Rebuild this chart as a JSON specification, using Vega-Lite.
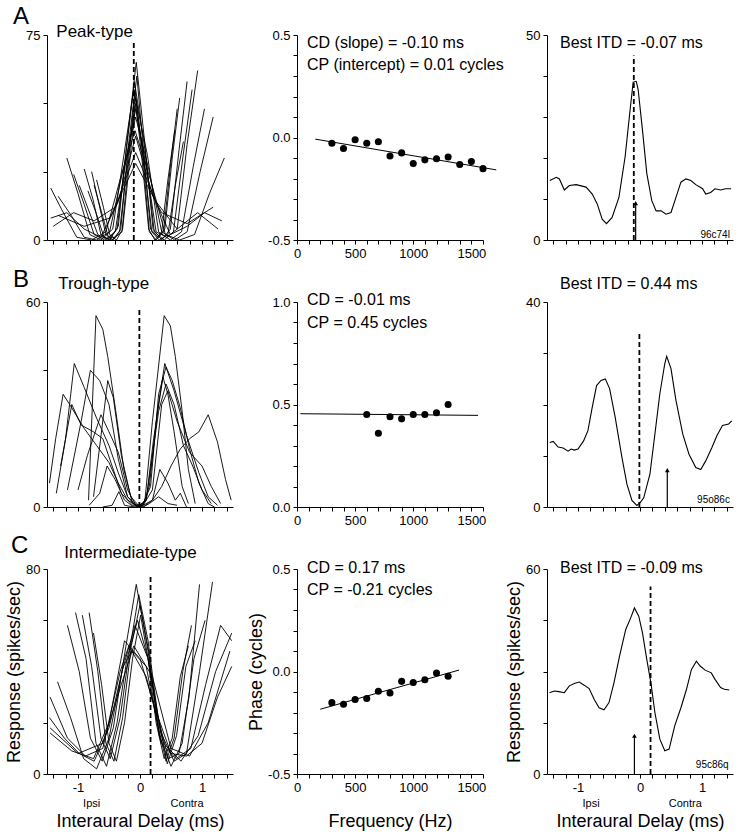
{
"$schema": "https://vega.github.io/schema/vega-lite/v6.json",
"autosize": {"type": "pad"},
"padding": {"left": 5, "top": 5, "right": 5, "bottom": 5},
"background": "white",
"bounds": "flush",
"columns": 3,
"spacing": {"row": 62, "column": 64},
"config": {
 "view": {"stroke": null},
 "font": "Liberation Sans",
 "axis": {"grid": false, "ticks": true, "domain": true, "domainColor": "#000", "tickColor": "#000", "labelColor": "#000", "labelFont": "Liberation Sans", "labelFontSize": 13, "titleFont": "Liberation Sans", "titleFontSize": 18, "titleFontWeight": "normal", "titleColor": "#000", "labelFlush": false, "labelOverlap": false, "labelPadding": 3, "domainWidth": 1, "tickWidth": 1, "tickSize": 4},
 "text": {"font": "Liberation Sans", "color": "#000"}
},
"datasets": {
 "aL": [
  {"k":1,"x":-0.70,"y":22},{"k":1,"x":-0.59,"y":12},{"k":1,"x":-0.49,"y":2},{"k":1,"x":-0.38,"y":0},{"k":1,"x":-0.28,"y":4},{"k":1,"x":-0.17,"y":28},{"k":1,"x":-0.07,"y":50},{"k":1,"x":0.03,"y":30},{"k":1,"x":0.14,"y":4},{"k":1,"x":0.24,"y":0},{"k":1,"x":0.35,"y":3},{"k":1,"x":0.45,"y":22},{"k":1,"x":0.56,"y":40},
  {"k":2,"x":-0.74,"y":20},{"k":2,"x":-0.63,"y":11},{"k":2,"x":-0.51,"y":1},{"k":2,"x":-0.40,"y":1},{"k":2,"x":-0.29,"y":3},{"k":2,"x":-0.18,"y":30},{"k":2,"x":-0.08,"y":55},{"k":2,"x":0.04,"y":32},{"k":2,"x":0.15,"y":3},{"k":2,"x":0.26,"y":0},{"k":2,"x":0.38,"y":3},{"k":2,"x":0.49,"y":27},{"k":2,"x":0.60,"y":48},
  {"k":3,"x":-0.78,"y":25},{"k":3,"x":-0.67,"y":14},{"k":3,"x":-0.55,"y":2},{"k":3,"x":-0.43,"y":0},{"k":3,"x":-0.31,"y":4},{"k":3,"x":-0.19,"y":34},{"k":3,"x":-0.05,"y":60},{"k":3,"x":0.05,"y":34},{"k":3,"x":0.17,"y":4},{"k":3,"x":0.29,"y":1},{"k":3,"x":0.40,"y":4},{"k":3,"x":0.52,"y":30},{"k":3,"x":0.64,"y":52},
  {"k":4,"x":-0.84,"y":18},{"k":4,"x":-0.71,"y":10},{"k":4,"x":-0.58,"y":1},{"k":4,"x":-0.45,"y":0},{"k":4,"x":-0.33,"y":3},{"k":4,"x":-0.20,"y":29},{"k":4,"x":-0.07,"y":52},{"k":4,"x":0.06,"y":29},{"k":4,"x":0.19,"y":3},{"k":4,"x":0.31,"y":0},{"k":4,"x":0.45,"y":2},{"k":4,"x":0.57,"y":20},{"k":4,"x":0.70,"y":36},
  {"k":5,"x":-0.90,"y":26},{"k":5,"x":-0.76,"y":15},{"k":5,"x":-0.63,"y":2},{"k":5,"x":-0.49,"y":0},{"k":5,"x":-0.35,"y":5},{"k":5,"x":-0.21,"y":36},{"k":5,"x":-0.06,"y":65},{"k":5,"x":0.07,"y":37},{"k":5,"x":0.21,"y":4},{"k":5,"x":0.35,"y":0},{"k":5,"x":0.49,"y":4},{"k":5,"x":0.63,"y":33},{"k":5,"x":0.76,"y":58},
  {"k":6,"x":-0.98,"y":20},{"k":6,"x":-0.83,"y":11},{"k":6,"x":-0.68,"y":2},{"k":6,"x":-0.52,"y":0},{"k":6,"x":-0.37,"y":4},{"k":6,"x":-0.22,"y":33},{"k":6,"x":-0.09,"y":58},{"k":6,"x":0.08,"y":33},{"k":6,"x":0.23,"y":3},{"k":6,"x":0.39,"y":0},{"k":6,"x":0.54,"y":3},{"k":6,"x":0.69,"y":30},{"k":6,"x":0.84,"y":55},
  {"k":7,"x":-1.07,"y":24},{"k":7,"x":-0.90,"y":13},{"k":7,"x":-0.74,"y":2},{"k":7,"x":-0.57,"y":0},{"k":7,"x":-0.40,"y":3},{"k":7,"x":-0.24,"y":27},{"k":7,"x":-0.07,"y":48},{"k":7,"x":0.10,"y":27},{"k":7,"x":0.26,"y":3},{"k":7,"x":0.43,"y":1},{"k":7,"x":0.60,"y":4},{"k":7,"x":0.76,"y":35},{"k":7,"x":0.93,"y":62},
  {"k":8,"x":-1.18,"y":30},{"k":8,"x":-1.00,"y":17},{"k":8,"x":-0.81,"y":2},{"k":8,"x":-0.63,"y":0},{"k":8,"x":-0.44,"y":4},{"k":8,"x":-0.26,"y":31},{"k":8,"x":-0.10,"y":55},{"k":8,"x":0.12,"y":31},{"k":8,"x":0.30,"y":3},{"k":8,"x":0.49,"y":0},{"k":8,"x":0.67,"y":3},{"k":8,"x":0.86,"y":27},{"k":8,"x":1.04,"y":48},
  {"k":9,"x":-1.32,"y":16},{"k":9,"x":-1.11,"y":9},{"k":9,"x":-0.90,"y":1},{"k":9,"x":-0.70,"y":0},{"k":9,"x":-0.49,"y":3},{"k":9,"x":-0.28,"y":25},{"k":9,"x":-0.07,"y":45},{"k":9,"x":0.14,"y":26},{"k":9,"x":0.35,"y":3},{"k":9,"x":0.56,"y":0},{"k":9,"x":0.76,"y":3},{"k":9,"x":0.97,"y":25},{"k":9,"x":1.18,"y":45},
  {"k":10,"x":-1.44,"y":19},{"k":10,"x":-1.26,"y":11},{"k":10,"x":-1.02,"y":1},{"k":10,"x":-0.78,"y":0},{"k":10,"x":-0.55,"y":3},{"k":10,"x":-0.31,"y":23},{"k":10,"x":-0.08,"y":40},{"k":10,"x":0.17,"y":22},{"k":10,"x":0.41,"y":2},{"k":10,"x":0.64,"y":0},{"k":10,"x":0.88,"y":2},{"k":10,"x":1.12,"y":17},{"k":10,"x":1.36,"y":30},
  {"k":11,"x":-1.44,"y":8},{"k":11,"x":-1.18,"y":10},{"k":11,"x":-0.90,"y":4},{"k":11,"x":-0.63,"y":1},{"k":11,"x":-0.35,"y":14},{"k":11,"x":-0.07,"y":38},{"k":11,"x":0.21,"y":16},{"k":11,"x":0.49,"y":2},{"k":11,"x":0.76,"y":5},{"k":11,"x":1.04,"y":10},{"k":11,"x":1.32,"y":7},
  {"k":12,"x":-1.40,"y":5},{"k":12,"x":-1.07,"y":10},{"k":12,"x":-0.74,"y":7},{"k":12,"x":-0.40,"y":12},{"k":12,"x":-0.07,"y":32},{"k":12,"x":0.26,"y":14},{"k":12,"x":0.60,"y":4},{"k":12,"x":0.93,"y":10},{"k":12,"x":1.26,"y":4},
  {"k":13,"x":-1.32,"y":9},{"k":13,"x":-0.90,"y":5},{"k":13,"x":-0.49,"y":8},{"k":13,"x":-0.07,"y":28},{"k":13,"x":0.35,"y":10},{"k":13,"x":0.76,"y":6},{"k":13,"x":1.18,"y":12}
 ],
 "bL": [
  {"k":1,"x":-1.46,"y":7},{"k":1,"x":-1.36,"y":20},{"k":1,"x":-1.24,"y":33},{"k":1,"x":-1.1,"y":29},{"k":1,"x":-0.9,"y":23},{"k":1,"x":-0.7,"y":18},{"k":1,"x":-0.5,"y":13},{"k":1,"x":-0.35,"y":7},{"k":1,"x":-0.2,"y":2},{"k":1,"x":0,"y":0},{"k":1,"x":0.2,"y":2},{"k":1,"x":0.35,"y":6},{"k":1,"x":0.5,"y":12},{"k":1,"x":0.65,"y":17},{"k":1,"x":0.8,"y":20},{"k":1,"x":0.95,"y":22},{"k":1,"x":1.1,"y":27},{"k":1,"x":1.25,"y":19},{"k":1,"x":1.38,"y":8},{"k":1,"x":1.47,"y":2},
  {"k":2,"x":-1.35,"y":4},{"k":2,"x":-1.2,"y":20},{"k":2,"x":-1.06,"y":42},{"k":2,"x":-0.9,"y":35},{"k":2,"x":-0.7,"y":26},{"k":2,"x":-0.5,"y":18},{"k":2,"x":-0.35,"y":10},{"k":2,"x":-0.2,"y":3},{"k":2,"x":-0.08,"y":0.5},{"k":2,"x":0.05,"y":0.5},{"k":2,"x":0.15,"y":6},{"k":2,"x":0.28,"y":28},{"k":2,"x":0.40,"y":42},{"k":2,"x":0.55,"y":34},{"k":2,"x":0.75,"y":21},{"k":2,"x":0.95,"y":10},{"k":2,"x":1.1,"y":3},{"k":2,"x":1.25,"y":0.5},
  {"k":3,"x":-1.17,"y":5},{"k":3,"x":-0.95,"y":25},{"k":3,"x":-0.80,"y":40},{"k":3,"x":-0.65,"y":37},{"k":3,"x":-0.5,"y":30},{"k":3,"x":-0.35,"y":14},{"k":3,"x":-0.2,"y":3},{"k":3,"x":-0.05,"y":0.5},{"k":3,"x":0.05,"y":1},{"k":3,"x":0.17,"y":6},{"k":3,"x":0.30,"y":33},{"k":3,"x":0.42,"y":41},{"k":3,"x":0.52,"y":37},{"k":3,"x":0.65,"y":29},{"k":3,"x":0.8,"y":17},{"k":3,"x":0.95,"y":7},{"k":3,"x":1.1,"y":1},{"k":3,"x":1.2,"y":0},
  {"k":4,"x":-0.83,"y":2},{"k":4,"x":-0.71,"y":56},{"k":4,"x":-0.60,"y":52},{"k":4,"x":-0.52,"y":44},{"k":4,"x":-0.39,"y":28},{"k":4,"x":-0.26,"y":11},{"k":4,"x":-0.12,"y":1},{"k":4,"x":0,"y":0},{"k":4,"x":0.08,"y":2},{"k":4,"x":0.2,"y":25},{"k":4,"x":0.39,"y":56},{"k":4,"x":0.49,"y":53},{"k":4,"x":0.57,"y":44},{"k":4,"x":0.68,"y":28},{"k":4,"x":0.78,"y":11},{"k":4,"x":0.89,"y":1},
  {"k":5,"x":-0.75,"y":3},{"k":5,"x":-0.52,"y":37},{"k":5,"x":-0.43,"y":32},{"k":5,"x":-0.3,"y":15},{"k":5,"x":-0.15,"y":3},{"k":5,"x":0,"y":0},{"k":5,"x":0.1,"y":2},{"k":5,"x":0.22,"y":20},{"k":5,"x":0.37,"y":38},{"k":5,"x":0.45,"y":33},{"k":5,"x":0.55,"y":22},{"k":5,"x":0.68,"y":6},{"k":5,"x":0.78,"y":1},
  {"k":6,"x":-1.0,"y":5},{"k":6,"x":-0.85,"y":15},{"k":6,"x":-0.63,"y":27},{"k":6,"x":-0.5,"y":22},{"k":6,"x":-0.35,"y":16},{"k":6,"x":-0.2,"y":5},{"k":6,"x":-0.05,"y":0},{"k":6,"x":0.1,"y":2},{"k":6,"x":0.3,"y":28},{"k":6,"x":0.42,"y":36},{"k":6,"x":0.55,"y":30},{"k":6,"x":0.7,"y":18},{"k":6,"x":0.85,"y":12},{"k":6,"x":1.0,"y":5},{"k":6,"x":1.15,"y":1},
  {"k":7,"x":-0.6,"y":0},{"k":7,"x":-0.45,"y":0.5},{"k":7,"x":-0.34,"y":4.5},{"k":7,"x":-0.25,"y":0.5},{"k":7,"x":-0.1,"y":0},{"k":7,"x":0.05,"y":0},{"k":7,"x":0.2,"y":2},{"k":7,"x":0.32,"y":11},{"k":7,"x":0.45,"y":7},{"k":7,"x":0.57,"y":2},{"k":7,"x":0.65,"y":4},{"k":7,"x":0.75,"y":0},
  {"k":8,"x":-0.82,"y":0.5},{"k":8,"x":-0.65,"y":4},{"k":8,"x":-0.53,"y":12},{"k":8,"x":-0.40,"y":8},{"k":8,"x":-0.25,"y":2},{"k":8,"x":-0.1,"y":0},{"k":8,"x":0.05,"y":0},{"k":8,"x":0.15,"y":1},{"k":8,"x":0.3,"y":3},{"k":8,"x":0.45,"y":1},{"k":8,"x":0.6,"y":0.5},
  {"k":9,"x":-1.28,"y":12},{"k":9,"x":-1.1,"y":30},{"k":9,"x":-0.95,"y":24},{"k":9,"x":-0.75,"y":22},{"k":9,"x":-0.6,"y":20},{"k":9,"x":-0.45,"y":12},{"k":9,"x":-0.3,"y":4},{"k":9,"x":-0.12,"y":0.5},{"k":9,"x":0.05,"y":0.5},{"k":9,"x":0.2,"y":5},{"k":9,"x":0.35,"y":30},{"k":9,"x":0.45,"y":34},{"k":9,"x":0.6,"y":25},{"k":9,"x":0.8,"y":16},{"k":9,"x":1.0,"y":12},{"k":9,"x":1.15,"y":6},{"k":9,"x":1.3,"y":1}
 ],
 "cL": [
  {"k":1,"x":-0.75,"y":55},{"k":1,"x":-0.62,"y":35},{"k":1,"x":-0.5,"y":12},{"k":1,"x":-0.38,"y":5},{"k":1,"x":-0.25,"y":20},{"k":1,"x":-0.12,"y":45},{"k":1,"x":0.01,"y":62},{"k":1,"x":0.13,"y":45},{"k":1,"x":0.26,"y":20},{"k":1,"x":0.39,"y":6},{"k":1,"x":0.52,"y":14},{"k":1,"x":0.65,"y":38},{"k":1,"x":0.78,"y":50},
  {"k":2,"x":-0.82,"y":63},{"k":2,"x":-0.68,"y":40},{"k":2,"x":-0.55,"y":12},{"k":2,"x":-0.42,"y":5},{"k":2,"x":-0.28,"y":22},{"k":2,"x":-0.14,"y":50},{"k":2,"x":0.0,"y":66},{"k":2,"x":0.14,"y":48},{"k":2,"x":0.28,"y":20},{"k":2,"x":0.42,"y":5},{"k":2,"x":0.55,"y":14},{"k":2,"x":0.69,"y":40},{"k":2,"x":0.83,"y":58},
  {"k":3,"x":-0.93,"y":62},{"k":3,"x":-0.78,"y":42},{"k":3,"x":-0.63,"y":14},{"k":3,"x":-0.48,"y":6},{"k":3,"x":-0.32,"y":22},{"k":3,"x":-0.17,"y":48},{"k":3,"x":-0.02,"y":70},{"k":3,"x":0.13,"y":52},{"k":3,"x":0.28,"y":24},{"k":3,"x":0.44,"y":4},{"k":3,"x":0.59,"y":15},{"k":3,"x":0.74,"y":42},{"k":3,"x":0.89,"y":52},
  {"k":4,"x":-1.04,"y":63},{"k":4,"x":-0.87,"y":45},{"k":4,"x":-0.71,"y":12},{"k":4,"x":-0.54,"y":3},{"k":4,"x":-0.37,"y":20},{"k":4,"x":-0.21,"y":45},{"k":4,"x":-0.04,"y":60},{"k":4,"x":0.13,"y":45},{"k":4,"x":0.29,"y":22},{"k":4,"x":0.46,"y":6},{"k":4,"x":0.63,"y":8},{"k":4,"x":0.79,"y":30},{"k":4,"x":0.96,"y":74},
  {"k":5,"x":-1.17,"y":58},{"k":5,"x":-0.98,"y":40},{"k":5,"x":-0.80,"y":14},{"k":5,"x":-0.61,"y":5},{"k":5,"x":-0.43,"y":18},{"k":5,"x":-0.24,"y":48},{"k":5,"x":-0.06,"y":74},{"k":5,"x":0.13,"y":48},{"k":5,"x":0.31,"y":15},{"k":5,"x":0.50,"y":3},{"k":5,"x":0.68,"y":12},{"k":5,"x":0.87,"y":45},{"k":5,"x":1.05,"y":60},
  {"k":6,"x":-1.33,"y":36},{"k":6,"x":-1.12,"y":22},{"k":6,"x":-0.91,"y":6},{"k":6,"x":-0.70,"y":2},{"k":6,"x":-0.50,"y":14},{"k":6,"x":-0.29,"y":40},{"k":6,"x":-0.08,"y":58},{"k":6,"x":0.13,"y":45},{"k":6,"x":0.34,"y":16},{"k":6,"x":0.55,"y":5},{"k":6,"x":0.75,"y":8},{"k":6,"x":0.96,"y":40},{"k":6,"x":1.17,"y":75},
  {"k":7,"x":-1.46,"y":22},{"k":7,"x":-1.22,"y":14},{"k":7,"x":-0.98,"y":8},{"k":7,"x":-0.74,"y":5},{"k":7,"x":-0.50,"y":18},{"k":7,"x":-0.27,"y":42},{"k":7,"x":-0.13,"y":48},{"k":7,"x":0.10,"y":42},{"k":7,"x":0.34,"y":12},{"k":7,"x":0.58,"y":6},{"k":7,"x":0.82,"y":10},{"k":7,"x":1.06,"y":35},{"k":7,"x":1.30,"y":58},{"k":7,"x":1.48,"y":52},
  {"k":8,"x":-1.45,"y":30},{"k":8,"x":-1.17,"y":14},{"k":8,"x":-0.88,"y":7},{"k":8,"x":-0.6,"y":10},{"k":8,"x":-0.32,"y":40},{"k":8,"x":-0.18,"y":50},{"k":8,"x":0.1,"y":38},{"k":8,"x":0.38,"y":12},{"k":8,"x":0.66,"y":5},{"k":8,"x":0.94,"y":15},{"k":8,"x":1.22,"y":40},{"k":8,"x":1.48,"y":55},
  {"k":9,"x":-1.45,"y":16},{"k":9,"x":-1.1,"y":9},{"k":9,"x":-0.75,"y":6},{"k":9,"x":-0.5,"y":20},{"k":9,"x":-0.25,"y":52},{"k":9,"x":0.0,"y":45},{"k":9,"x":0.25,"y":25},{"k":9,"x":0.5,"y":8},{"k":9,"x":0.75,"y":7},{"k":9,"x":1.0,"y":12},{"k":9,"x":1.25,"y":30},{"k":9,"x":1.48,"y":42},
  {"k":10,"x":-1.45,"y":18},{"k":10,"x":-1.0,"y":8},{"k":10,"x":-0.6,"y":12},{"k":10,"x":-0.3,"y":35},{"k":10,"x":-0.1,"y":50},{"k":10,"x":0.2,"y":38},{"k":10,"x":0.5,"y":10},{"k":10,"x":0.8,"y":7},{"k":10,"x":1.1,"y":20},{"k":10,"x":1.45,"y":48}
 ],
 "aM": [{"f":300,"p":-0.028},{"f":400,"p":-0.054},{"f":500,"p":-0.011},{"f":600,"p":-0.028},{"f":700,"p":-0.021},{"f":800,"p":-0.09},{"f":900,"p":-0.075},{"f":1000,"p":-0.127},{"f":1100,"p":-0.109},{"f":1200,"p":-0.104},{"f":1300,"p":-0.095},{"f":1400,"p":-0.132},{"f":1500,"p":-0.117},{"f":1600,"p":-0.152}],
 "aFit": [{"f":157,"p":-0.008},{"f":1714,"p":-0.158}],
 "bM": [{"f":600,"p":0.451},{"f":700,"p":0.36},{"f":800,"p":0.44},{"f":900,"p":0.43},{"f":1000,"p":0.451},{"f":1100,"p":0.451},{"f":1200,"p":0.46},{"f":1300,"p":0.50}],
 "bFit": [{"f":29,"p":0.455},{"f":1557,"p":0.447}],
 "cM": [{"f":300,"p":-0.152},{"f":400,"p":-0.160},{"f":500,"p":-0.137},{"f":600,"p":-0.132},{"f":700,"p":-0.096},{"f":800,"p":-0.105},{"f":900,"p":-0.048},{"f":1000,"p":-0.054},{"f":1100,"p":-0.040},{"f":1200,"p":-0.007},{"f":1300,"p":-0.023}],
 "cFit": [{"f":200,"p":-0.184},{"f":1394,"p":0.007}],
 "aR": [{"x":-1.455,"y":14.5},{"x":-1.35,"y":15.3},{"x":-1.30,"y":14.9},{"x":-1.22,"y":12.2},{"x":-1.14,"y":13.3},{"x":-1.03,"y":13.5},{"x":-0.87,"y":12.9},{"x":-0.77,"y":11.2},{"x":-0.69,"y":8.8},{"x":-0.61,"y":5.1},{"x":-0.54,"y":4.0},{"x":-0.45,"y":5.5},{"x":-0.34,"y":10.4},{"x":-0.24,"y":20.3},{"x":-0.16,"y":31.7},{"x":-0.11,"y":38.5},{"x":-0.06,"y":38.7},{"x":-0.03,"y":36.7},{"x":0.04,"y":26.8},{"x":0.11,"y":16.2},{"x":0.19,"y":9.6},{"x":0.26,"y":7.1},{"x":0.34,"y":7.1},{"x":0.42,"y":6.3},{"x":0.50,"y":6.7},{"x":0.58,"y":10.4},{"x":0.66,"y":14.1},{"x":0.74,"y":14.9},{"x":0.82,"y":14.5},{"x":0.90,"y":13.5},{"x":1.01,"y":12.5},{"x":1.06,"y":11.2},{"x":1.14,"y":11.6},{"x":1.21,"y":12.5},{"x":1.30,"y":12.2},{"x":1.38,"y":12.5},{"x":1.47,"y":12.5}],
 "bR": [{"x":-1.455,"y":12.6},{"x":-1.40,"y":12.8},{"x":-1.32,"y":11.7},{"x":-1.24,"y":11.5},{"x":-1.16,"y":10.9},{"x":-1.11,"y":11.3},{"x":-1.06,"y":11.1},{"x":-1.0,"y":11.3},{"x":-0.91,"y":12.9},{"x":-0.84,"y":14.9},{"x":-0.77,"y":19.5},{"x":-0.70,"y":23.7},{"x":-0.63,"y":24.7},{"x":-0.56,"y":25.0},{"x":-0.49,"y":23.1},{"x":-0.40,"y":17.5},{"x":-0.29,"y":9.6},{"x":-0.21,"y":4.4},{"x":-0.13,"y":1.3},{"x":-0.05,"y":0.3},{"x":0,"y":0.8},{"x":0.06,"y":1.8},{"x":0.16,"y":6.4},{"x":0.24,"y":14.2},{"x":0.32,"y":22.1},{"x":0.40,"y":28.0},{"x":0.43,"y":29.4},{"x":0.50,"y":27.0},{"x":0.58,"y":20.8},{"x":0.69,"y":14.2},{"x":0.79,"y":10.3},{"x":0.90,"y":7.7},{"x":0.98,"y":7.3},{"x":1.06,"y":9.0},{"x":1.16,"y":11.6},{"x":1.24,"y":13.9},{"x":1.33,"y":15.9},{"x":1.43,"y":16.2},{"x":1.48,"y":16.8}],
 "cR": [{"x":-1.46,"y":23.8},{"x":-1.38,"y":24.3},{"x":-1.31,"y":24.1},{"x":-1.22,"y":23.8},{"x":-1.14,"y":25.8},{"x":-1.06,"y":26.5},{"x":-0.98,"y":26.9},{"x":-0.90,"y":26.0},{"x":-0.82,"y":25.0},{"x":-0.74,"y":21.9},{"x":-0.66,"y":19.4},{"x":-0.58,"y":18.8},{"x":-0.50,"y":20.9},{"x":-0.42,"y":26.7},{"x":-0.33,"y":34.5},{"x":-0.23,"y":42.3},{"x":-0.15,"y":45.7},{"x":-0.09,"y":48.6},{"x":-0.02,"y":46.2},{"x":0.04,"y":41.3},{"x":0.11,"y":33.5},{"x":0.18,"y":26.2},{"x":0.24,"y":18.0},{"x":0.32,"y":10.2},{"x":0.40,"y":6.8},{"x":0.47,"y":7.3},{"x":0.56,"y":14.1},{"x":0.66,"y":19.4},{"x":0.75,"y":24.8},{"x":0.83,"y":30.6},{"x":0.91,"y":33.0},{"x":0.97,"y":31.6},{"x":1.05,"y":30.4},{"x":1.15,"y":29.6},{"x":1.21,"y":27.7},{"x":1.30,"y":25.3},{"x":1.36,"y":24.8},{"x":1.44,"y":24.6}]
},
"concat": [
  {"width": 186, "height": 205, "layer": [
   {"data": {"name": "aL"}, "mark": {"type": "line", "clip": true, "strokeWidth": 0.9, "color": "#000"},
    "encoding": {
     "x": {"field": "x", "type": "quantitative", "scale": {"domain": [-1.5, 1.5], "nice": false, "zero": false}, "axis": {"values": [-1.4,-1.2,-1,-0.8,-0.6,-0.4,-0.2,0,0.2,0.4,0.6,0.8,1,1.2,1.4], "tickCount": 50, "labels": false, "title": null, "ticks": true, "tickSize": 4, "domain": true, "labelOverlap": false}},
     "y": {"field": "y", "type": "quantitative", "scale": {"domain": [0, 75], "nice": false, "zero": false}, "axis": {"values": [0,25,50,75], "tickCount": 50, "labelExpr": "datum.value == 0 || datum.value == 75 ? datum.label : ''", "title": null, "ticks": true, "tickSize": 4, "domain": true, "labelOverlap": false, "labelFlush": false}},
     "detail": {"field": "k", "type": "nominal"}}},
   {"data": {"values": [{}]}, "mark": {"type": "rule", "strokeDash": [5, 3], "strokeWidth": 1.8, "color": "#000"},
    "encoding": {"x": {"datum": -0.10, "type": "quantitative", "scale": {"domain": [-1.5, 1.5], "nice": false, "zero": false}}, "y": {"datum": 0, "type": "quantitative", "scale": {"domain": [0, 75], "nice": false, "zero": false}}, "y2": {"datum": 73}}},
   {"data": {"values": [{}]}, "mark": {"type": "text", "fontSize": 24, "align": "left", "baseline": "alphabetic"},
    "encoding": {"x": {"datum": -2.05, "type": "quantitative", "scale": {"domain": [-1.5, 1.5], "nice": false, "zero": false}}, "y": {"datum": 79, "type": "quantitative", "scale": {"domain": [0, 75], "nice": false, "zero": false}}, "text": {"value": "A"}}},
   {"data": {"values": [{}]}, "mark": {"type": "text", "fontSize": 17, "align": "left", "baseline": "alphabetic"},
    "encoding": {"x": {"datum": -1.35, "type": "quantitative", "scale": {"domain": [-1.5, 1.5], "nice": false, "zero": false}}, "y": {"datum": 74.3, "type": "quantitative", "scale": {"domain": [0, 75], "nice": false, "zero": false}}, "text": {"value": "Peak-type"}}}
  ]},
  {"width": 186, "height": 205, "layer": [
   {"data": {"name": "aFit"}, "mark": {"type": "line", "strokeWidth": 1, "color": "#000"},
    "encoding": {
     "x": {"field": "f", "type": "quantitative", "scale": {"domain": [0, 1600], "nice": false, "zero": false}, "axis": {"values": [0,100,200,300,400,500,600,700,800,900,1000,1100,1200,1300,1400,1500,1600], "tickCount": 50, "format": "d", "labelExpr": "datum.value % 500 == 0 ? datum.label : ''", "title": null, "ticks": true, "tickSize": 4, "domain": true, "labelOverlap": false, "labelFlush": false}},
     "y": {"field": "p", "type": "quantitative", "scale": {"domain": [-0.5, 0.5], "nice": false, "zero": false}, "axis": {"values": [-0.5,-0.4,-0.3,-0.2,-0.1,0,0.1,0.2,0.3,0.4,0.5], "tickCount": 50, "labelExpr": "abs(datum.value*2 - round(datum.value*2)) < 0.01 ? (datum.value < -0.01 ? '-' : '') + format(abs(datum.value), '.1f') : ''", "title": null, "ticks": true, "tickSize": 4, "domain": true, "labelOverlap": false, "labelFlush": false}}}},
   {"data": {"name": "aM"}, "mark": {"type": "circle", "size": 50, "color": "#000", "opacity": 1},
    "encoding": {"x": {"field": "f", "type": "quantitative", "scale": {"domain": [0, 1600], "nice": false, "zero": false}}, "y": {"field": "p", "type": "quantitative", "scale": {"domain": [-0.5, 0.5], "nice": false, "zero": false}}}},
   {"data": {"values": [{}]}, "mark": {"type": "text", "fontSize": 16, "align": "left", "baseline": "alphabetic"},
    "encoding": {"x": {"datum": 86, "type": "quantitative", "scale": {"domain": [0, 1600], "nice": false, "zero": false}}, "y": {"datum": 0.439, "type": "quantitative", "scale": {"domain": [-0.5, 0.5], "nice": false, "zero": false}}, "text": {"value": "CD (slope) = -0.10 ms"}}},
   {"data": {"values": [{}]}, "mark": {"type": "text", "fontSize": 16, "align": "left", "baseline": "alphabetic"},
    "encoding": {"x": {"datum": 86, "type": "quantitative", "scale": {"domain": [0, 1600], "nice": false, "zero": false}}, "y": {"datum": 0.329, "type": "quantitative", "scale": {"domain": [-0.5, 0.5], "nice": false, "zero": false}}, "text": {"value": "CP (intercept) = 0.01 cycles"}}}
  ]},
  {"width": 186, "height": 205, "layer": [
   {"data": {"name": "aR"}, "mark": {"type": "line", "strokeWidth": 1.1, "color": "#000", "clip": true},
    "encoding": {
     "x": {"field": "x", "type": "quantitative", "scale": {"domain": [-1.5, 1.5], "nice": false, "zero": false}, "axis": {"values": [-1.4,-1.2,-1,-0.8,-0.6,-0.4,-0.2,0,0.2,0.4,0.6,0.8,1,1.2,1.4], "tickCount": 50, "labels": false, "title": null, "ticks": true, "tickSize": 4, "domain": true, "labelOverlap": false}},
     "y": {"field": "y", "type": "quantitative", "scale": {"domain": [0, 50], "nice": false, "zero": false}, "axis": {"values": [0,10,20,30,40,50], "tickCount": 50, "labelExpr": "datum.value == 0 || datum.value == 50 ? datum.label : ''", "title": null, "ticks": true, "tickSize": 4, "domain": true, "labelOverlap": false, "labelFlush": false}}}},
   {"data": {"values": [{}]}, "mark": {"type": "rule", "strokeDash": [5, 3], "strokeWidth": 1.8, "color": "#000"},
    "encoding": {"x": {"datum": -0.10, "type": "quantitative", "scale": {"domain": [-1.5, 1.5], "nice": false, "zero": false}}, "y": {"datum": 0, "type": "quantitative", "scale": {"domain": [0, 50], "nice": false, "zero": false}}, "y2": {"datum": 45}}},
   {"data": {"values": [{}]}, "mark": {"type": "rule", "strokeWidth": 1.2, "color": "#000"},
    "encoding": {"x": {"datum": -0.07, "type": "quantitative", "scale": {"domain": [-1.5, 1.5], "nice": false, "zero": false}}, "y": {"datum": 0, "type": "quantitative", "scale": {"domain": [0, 50], "nice": false, "zero": false}}, "y2": {"datum": 9}}},
   {"data": {"values": [{}]}, "mark": {"type": "point", "shape": "triangle-up", "filled": true, "size": 22, "color": "#000", "opacity": 1},
    "encoding": {"x": {"datum": -0.07, "type": "quantitative", "scale": {"domain": [-1.5, 1.5], "nice": false, "zero": false}}, "y": {"datum": 9, "type": "quantitative", "scale": {"domain": [0, 50], "nice": false, "zero": false}}}},
   {"data": {"values": [{}]}, "mark": {"type": "text", "fontSize": 16, "align": "left", "baseline": "alphabetic"},
    "encoding": {"x": {"datum": -1.29, "type": "quantitative", "scale": {"domain": [-1.5, 1.5], "nice": false, "zero": false}}, "y": {"datum": 46.9, "type": "quantitative", "scale": {"domain": [0, 50], "nice": false, "zero": false}}, "text": {"value": "Best ITD = -0.07 ms"}}},
   {"data": {"values": [{}]}, "mark": {"type": "text", "fontSize": 10, "align": "right", "baseline": "alphabetic"},
    "encoding": {"x": {"datum": 1.45, "type": "quantitative", "scale": {"domain": [-1.5, 1.5], "nice": false, "zero": false}}, "y": {"datum": 0.6, "type": "quantitative", "scale": {"domain": [0, 50], "nice": false, "zero": false}}, "text": {"value": "96c74l"}}}
  ]},
  {"width": 186, "height": 205, "layer": [
   {"data": {"name": "bL"}, "mark": {"type": "line", "clip": true, "strokeWidth": 0.9, "color": "#000"},
    "encoding": {
     "x": {"field": "x", "type": "quantitative", "scale": {"domain": [-1.5, 1.5], "nice": false, "zero": false}, "axis": {"values": [-1.4,-1.2,-1,-0.8,-0.6,-0.4,-0.2,0,0.2,0.4,0.6,0.8,1,1.2,1.4], "tickCount": 50, "labels": false, "title": null, "ticks": true, "tickSize": 4, "domain": true, "labelOverlap": false}},
     "y": {"field": "y", "type": "quantitative", "scale": {"domain": [0, 60], "nice": false, "zero": false}, "axis": {"values": [0,20,40,60], "tickCount": 50, "labelExpr": "datum.value == 0 || datum.value == 60 ? datum.label : ''", "title": null, "ticks": true, "tickSize": 4, "domain": true, "labelOverlap": false, "labelFlush": false}},
     "detail": {"field": "k", "type": "nominal"}}},
   {"data": {"values": [{}]}, "mark": {"type": "rule", "strokeDash": [5, 3], "strokeWidth": 1.8, "color": "#000"},
    "encoding": {"x": {"datum": -0.01, "type": "quantitative", "scale": {"domain": [-1.5, 1.5], "nice": false, "zero": false}}, "y": {"datum": 0, "type": "quantitative", "scale": {"domain": [0, 60], "nice": false, "zero": false}}, "y2": {"datum": 58.3}}},
   {"data": {"values": [{}]}, "mark": {"type": "text", "fontSize": 24, "align": "left", "baseline": "alphabetic"},
    "encoding": {"x": {"datum": -2.05, "type": "quantitative", "scale": {"domain": [-1.5, 1.5], "nice": false, "zero": false}}, "y": {"datum": 64.4, "type": "quantitative", "scale": {"domain": [0, 60], "nice": false, "zero": false}}, "text": {"value": "B"}}},
   {"data": {"values": [{}]}, "mark": {"type": "text", "fontSize": 17, "align": "left", "baseline": "alphabetic"},
    "encoding": {"x": {"datum": -1.32, "type": "quantitative", "scale": {"domain": [-1.5, 1.5], "nice": false, "zero": false}}, "y": {"datum": 63.9, "type": "quantitative", "scale": {"domain": [0, 60], "nice": false, "zero": false}}, "text": {"value": "Trough-type"}}}
  ]},
  {"width": 186, "height": 205, "layer": [
   {"data": {"name": "bFit"}, "mark": {"type": "line", "strokeWidth": 1, "color": "#000"},
    "encoding": {
     "x": {"field": "f", "type": "quantitative", "scale": {"domain": [0, 1600], "nice": false, "zero": false}, "axis": {"values": [0,100,200,300,400,500,600,700,800,900,1000,1100,1200,1300,1400,1500,1600], "tickCount": 50, "format": "d", "labelExpr": "datum.value % 500 == 0 ? datum.label : ''", "title": null, "ticks": true, "tickSize": 4, "domain": true, "labelOverlap": false, "labelFlush": false}},
     "y": {"field": "p", "type": "quantitative", "scale": {"domain": [0, 1], "nice": false, "zero": false}, "axis": {"values": [0,0.1,0.2,0.3,0.4,0.5,0.6,0.7,0.8,0.9,1], "tickCount": 50, "labelExpr": "abs(datum.value*2 - round(datum.value*2)) < 0.01 ? format(datum.value, '.1f') : ''", "title": null, "ticks": true, "tickSize": 4, "domain": true, "labelOverlap": false, "labelFlush": false}}}},
   {"data": {"name": "bM"}, "mark": {"type": "circle", "size": 50, "color": "#000", "opacity": 1},
    "encoding": {"x": {"field": "f", "type": "quantitative", "scale": {"domain": [0, 1600], "nice": false, "zero": false}}, "y": {"field": "p", "type": "quantitative", "scale": {"domain": [0, 1], "nice": false, "zero": false}}}},
   {"data": {"values": [{}]}, "mark": {"type": "text", "fontSize": 16, "align": "left", "baseline": "alphabetic"},
    "encoding": {"x": {"datum": 86, "type": "quantitative", "scale": {"domain": [0, 1600], "nice": false, "zero": false}}, "y": {"datum": 0.984, "type": "quantitative", "scale": {"domain": [0, 1], "nice": false, "zero": false}}, "text": {"value": "CD = -0.01 ms"}}},
   {"data": {"values": [{}]}, "mark": {"type": "text", "fontSize": 16, "align": "left", "baseline": "alphabetic"},
    "encoding": {"x": {"datum": 86, "type": "quantitative", "scale": {"domain": [0, 1600], "nice": false, "zero": false}}, "y": {"datum": 0.875, "type": "quantitative", "scale": {"domain": [0, 1], "nice": false, "zero": false}}, "text": {"value": "CP = 0.45 cycles"}}}
  ]},
  {"width": 186, "height": 205, "layer": [
   {"data": {"name": "bR"}, "mark": {"type": "line", "strokeWidth": 1.1, "color": "#000", "clip": true},
    "encoding": {
     "x": {"field": "x", "type": "quantitative", "scale": {"domain": [-1.5, 1.5], "nice": false, "zero": false}, "axis": {"values": [-1.4,-1.2,-1,-0.8,-0.6,-0.4,-0.2,0,0.2,0.4,0.6,0.8,1,1.2,1.4], "tickCount": 50, "labels": false, "title": null, "ticks": true, "tickSize": 4, "domain": true, "labelOverlap": false}},
     "y": {"field": "y", "type": "quantitative", "scale": {"domain": [0, 40], "nice": false, "zero": false}, "axis": {"values": [0,10,20,30,40], "tickCount": 50, "labelExpr": "datum.value == 0 || datum.value == 40 ? datum.label : ''", "title": null, "ticks": true, "tickSize": 4, "domain": true, "labelOverlap": false, "labelFlush": false}}}},
   {"data": {"values": [{}]}, "mark": {"type": "rule", "strokeDash": [5, 3], "strokeWidth": 1.8, "color": "#000"},
    "encoding": {"x": {"datum": -0.01, "type": "quantitative", "scale": {"domain": [-1.5, 1.5], "nice": false, "zero": false}}, "y": {"datum": 0, "type": "quantitative", "scale": {"domain": [0, 40], "nice": false, "zero": false}}, "y2": {"datum": 33.8}}},
   {"data": {"values": [{}]}, "mark": {"type": "rule", "strokeWidth": 1.2, "color": "#000"},
    "encoding": {"x": {"datum": 0.44, "type": "quantitative", "scale": {"domain": [-1.5, 1.5], "nice": false, "zero": false}}, "y": {"datum": 0, "type": "quantitative", "scale": {"domain": [0, 40], "nice": false, "zero": false}}, "y2": {"datum": 7.2}}},
   {"data": {"values": [{}]}, "mark": {"type": "point", "shape": "triangle-up", "filled": true, "size": 22, "color": "#000", "opacity": 1},
    "encoding": {"x": {"datum": 0.44, "type": "quantitative", "scale": {"domain": [-1.5, 1.5], "nice": false, "zero": false}}, "y": {"datum": 7.2, "type": "quantitative", "scale": {"domain": [0, 40], "nice": false, "zero": false}}}},
   {"data": {"values": [{}]}, "mark": {"type": "text", "fontSize": 16, "align": "left", "baseline": "alphabetic"},
    "encoding": {"x": {"datum": -1.29, "type": "quantitative", "scale": {"domain": [-1.5, 1.5], "nice": false, "zero": false}}, "y": {"datum": 42.5, "type": "quantitative", "scale": {"domain": [0, 40], "nice": false, "zero": false}}, "text": {"value": "Best ITD = 0.44 ms"}}},
   {"data": {"values": [{}]}, "mark": {"type": "text", "fontSize": 10, "align": "right", "baseline": "alphabetic"},
    "encoding": {"x": {"datum": 1.45, "type": "quantitative", "scale": {"domain": [-1.5, 1.5], "nice": false, "zero": false}}, "y": {"datum": 0.8, "type": "quantitative", "scale": {"domain": [0, 40], "nice": false, "zero": false}}, "text": {"value": "95o86c"}}}
  ]},
  {"width": 186, "height": 205, "layer": [
   {"data": {"name": "cL"}, "mark": {"type": "line", "clip": true, "strokeWidth": 0.9, "color": "#000"},
    "encoding": {
     "x": {"field": "x", "type": "quantitative", "scale": {"domain": [-1.5, 1.5], "nice": false, "zero": false}, "axis": {"values": [-1.4,-1.2,-1,-0.8,-0.6,-0.4,-0.2,0,0.2,0.4,0.6,0.8,1,1.2,1.4], "tickCount": 50, "labelExpr": "abs(datum.value - round(datum.value)) < 0.01 ? (datum.value < -0.01 ? '-' : '') + format(abs(datum.value), 'd') : ''", "title": "Interaural Delay (ms)", "titlePadding": 18, "ticks": true, "tickSize": 4, "domain": true, "labelOverlap": false, "labelFlush": false}},
     "y": {"field": "y", "type": "quantitative", "scale": {"domain": [0, 80], "nice": false, "zero": false}, "axis": {"values": [0,20,40,60,80], "tickCount": 50, "labelExpr": "datum.value == 0 || datum.value == 80 ? datum.label : ''", "title": "Response (spikes/sec)", "titlePadding": 2, "ticks": true, "tickSize": 4, "domain": true, "labelOverlap": false, "labelFlush": false}},
     "detail": {"field": "k", "type": "nominal"}}},
   {"data": {"values": [{}]}, "mark": {"type": "rule", "strokeDash": [5, 3], "strokeWidth": 1.8, "color": "#000"},
    "encoding": {"x": {"datum": 0.17, "type": "quantitative", "scale": {"domain": [-1.5, 1.5], "nice": false, "zero": false}}, "y": {"datum": 0, "type": "quantitative", "scale": {"domain": [0, 80], "nice": false, "zero": false}}, "y2": {"datum": 77.4}}},
   {"data": {"values": [{}]}, "mark": {"type": "text", "fontSize": 24, "align": "left", "baseline": "alphabetic"},
    "encoding": {"x": {"datum": -2.08, "type": "quantitative", "scale": {"domain": [-1.5, 1.5], "nice": false, "zero": false}}, "y": {"datum": 86.2, "type": "quantitative", "scale": {"domain": [0, 80], "nice": false, "zero": false}}, "text": {"value": "C"}}},
   {"data": {"values": [{}]}, "mark": {"type": "text", "fontSize": 17, "align": "left", "baseline": "alphabetic"},
    "encoding": {"x": {"datum": -1.22, "type": "quantitative", "scale": {"domain": [-1.5, 1.5], "nice": false, "zero": false}}, "y": {"datum": 84.3, "type": "quantitative", "scale": {"domain": [0, 80], "nice": false, "zero": false}}, "text": {"value": "Intermediate-type"}}},
   {"data": {"values": [{}]}, "mark": {"type": "text", "fontSize": 11, "align": "center", "baseline": "alphabetic"},
    "encoding": {"x": {"datum": -0.78, "type": "quantitative", "scale": {"domain": [-1.5, 1.5], "nice": false, "zero": false}}, "y": {"datum": -13, "type": "quantitative", "scale": {"domain": [0, 80], "nice": false, "zero": false}}, "text": {"value": "Ipsi"}}},
   {"data": {"values": [{}]}, "mark": {"type": "text", "fontSize": 11, "align": "center", "baseline": "alphabetic"},
    "encoding": {"x": {"datum": 0.76, "type": "quantitative", "scale": {"domain": [-1.5, 1.5], "nice": false, "zero": false}}, "y": {"datum": -13, "type": "quantitative", "scale": {"domain": [0, 80], "nice": false, "zero": false}}, "text": {"value": "Contra"}}}
  ]},
  {"width": 186, "height": 205, "layer": [
   {"data": {"name": "cFit"}, "mark": {"type": "line", "strokeWidth": 1, "color": "#000"},
    "encoding": {
     "x": {"field": "f", "type": "quantitative", "scale": {"domain": [0, 1600], "nice": false, "zero": false}, "axis": {"values": [0,100,200,300,400,500,600,700,800,900,1000,1100,1200,1300,1400,1500,1600], "tickCount": 50, "format": "d", "labelExpr": "datum.value % 500 == 0 ? datum.label : ''", "title": "Frequency (Hz)", "titlePadding": 18, "ticks": true, "tickSize": 4, "domain": true, "labelOverlap": false, "labelFlush": false}},
     "y": {"field": "p", "type": "quantitative", "scale": {"domain": [-0.5, 0.5], "nice": false, "zero": false}, "axis": {"values": [-0.5,-0.4,-0.3,-0.2,-0.1,0,0.1,0.2,0.3,0.4,0.5], "tickCount": 50, "labelExpr": "abs(datum.value*2 - round(datum.value*2)) < 0.01 ? (datum.value < -0.01 ? '-' : '') + format(abs(datum.value), '.1f') : ''", "title": "Phase (cycles)", "titlePadding": 2, "ticks": true, "tickSize": 4, "domain": true, "labelOverlap": false, "labelFlush": false}}}},
   {"data": {"name": "cM"}, "mark": {"type": "circle", "size": 50, "color": "#000", "opacity": 1},
    "encoding": {"x": {"field": "f", "type": "quantitative", "scale": {"domain": [0, 1600], "nice": false, "zero": false}}, "y": {"field": "p", "type": "quantitative", "scale": {"domain": [-0.5, 0.5], "nice": false, "zero": false}}}},
   {"data": {"values": [{}]}, "mark": {"type": "text", "fontSize": 16, "align": "left", "baseline": "alphabetic"},
    "encoding": {"x": {"datum": 86, "type": "quantitative", "scale": {"domain": [0, 1600], "nice": false, "zero": false}}, "y": {"datum": 0.48, "type": "quantitative", "scale": {"domain": [-0.5, 0.5], "nice": false, "zero": false}}, "text": {"value": "CD =  0.17 ms"}}},
   {"data": {"values": [{}]}, "mark": {"type": "text", "fontSize": 16, "align": "left", "baseline": "alphabetic"},
    "encoding": {"x": {"datum": 86, "type": "quantitative", "scale": {"domain": [0, 1600], "nice": false, "zero": false}}, "y": {"datum": 0.375, "type": "quantitative", "scale": {"domain": [-0.5, 0.5], "nice": false, "zero": false}}, "text": {"value": "CP = -0.21 cycles"}}}
  ]},
  {"width": 186, "height": 205, "layer": [
   {"data": {"name": "cR"}, "mark": {"type": "line", "strokeWidth": 1.1, "color": "#000", "clip": true},
    "encoding": {
     "x": {"field": "x", "type": "quantitative", "scale": {"domain": [-1.5, 1.5], "nice": false, "zero": false}, "axis": {"values": [-1.4,-1.2,-1,-0.8,-0.6,-0.4,-0.2,0,0.2,0.4,0.6,0.8,1,1.2,1.4], "tickCount": 50, "labelExpr": "abs(datum.value - round(datum.value)) < 0.01 ? (datum.value < -0.01 ? '-' : '') + format(abs(datum.value), 'd') : ''", "title": "Interaural Delay (ms)", "titlePadding": 18, "ticks": true, "tickSize": 4, "domain": true, "labelOverlap": false, "labelFlush": false}},
     "y": {"field": "y", "type": "quantitative", "scale": {"domain": [0, 60], "nice": false, "zero": false}, "axis": {"values": [0,15,30,45,60], "tickCount": 50, "labelExpr": "datum.value == 0 || datum.value == 60 ? datum.label : ''", "title": "Response (spikes/sec)", "titlePadding": 2, "ticks": true, "tickSize": 4, "domain": true, "labelOverlap": false, "labelFlush": false}}}},
   {"data": {"values": [{}]}, "mark": {"type": "rule", "strokeDash": [5, 3], "strokeWidth": 1.8, "color": "#000"},
    "encoding": {"x": {"datum": 0.17, "type": "quantitative", "scale": {"domain": [-1.5, 1.5], "nice": false, "zero": false}}, "y": {"datum": 0, "type": "quantitative", "scale": {"domain": [0, 60], "nice": false, "zero": false}}, "y2": {"datum": 54.9}}},
   {"data": {"values": [{}]}, "mark": {"type": "rule", "strokeWidth": 1.2, "color": "#000"},
    "encoding": {"x": {"datum": -0.09, "type": "quantitative", "scale": {"domain": [-1.5, 1.5], "nice": false, "zero": false}}, "y": {"datum": 0, "type": "quantitative", "scale": {"domain": [0, 60], "nice": false, "zero": false}}, "y2": {"datum": 11.2}}},
   {"data": {"values": [{}]}, "mark": {"type": "point", "shape": "triangle-up", "filled": true, "size": 22, "color": "#000", "opacity": 1},
    "encoding": {"x": {"datum": -0.09, "type": "quantitative", "scale": {"domain": [-1.5, 1.5], "nice": false, "zero": false}}, "y": {"datum": 11.2, "type": "quantitative", "scale": {"domain": [0, 60], "nice": false, "zero": false}}}},
   {"data": {"values": [{}]}, "mark": {"type": "text", "fontSize": 16, "align": "left", "baseline": "alphabetic"},
    "encoding": {"x": {"datum": -1.29, "type": "quantitative", "scale": {"domain": [-1.5, 1.5], "nice": false, "zero": false}}, "y": {"datum": 58.8, "type": "quantitative", "scale": {"domain": [0, 60], "nice": false, "zero": false}}, "text": {"value": "Best ITD = -0.09 ms"}}},
   {"data": {"values": [{}]}, "mark": {"type": "text", "fontSize": 10, "align": "right", "baseline": "alphabetic"},
    "encoding": {"x": {"datum": 1.43, "type": "quantitative", "scale": {"domain": [-1.5, 1.5], "nice": false, "zero": false}}, "y": {"datum": 1.7, "type": "quantitative", "scale": {"domain": [0, 60], "nice": false, "zero": false}}, "text": {"value": "95c86q"}}},
   {"data": {"values": [{}]}, "mark": {"type": "text", "fontSize": 11, "align": "center", "baseline": "alphabetic"},
    "encoding": {"x": {"datum": -0.79, "type": "quantitative", "scale": {"domain": [-1.5, 1.5], "nice": false, "zero": false}}, "y": {"datum": -9.8, "type": "quantitative", "scale": {"domain": [0, 60], "nice": false, "zero": false}}, "text": {"value": "Ipsi"}}},
   {"data": {"values": [{}]}, "mark": {"type": "text", "fontSize": 11, "align": "center", "baseline": "alphabetic"},
    "encoding": {"x": {"datum": 0.73, "type": "quantitative", "scale": {"domain": [-1.5, 1.5], "nice": false, "zero": false}}, "y": {"datum": -9.8, "type": "quantitative", "scale": {"domain": [0, 60], "nice": false, "zero": false}}, "text": {"value": "Contra"}}}
  ]}
]
}
